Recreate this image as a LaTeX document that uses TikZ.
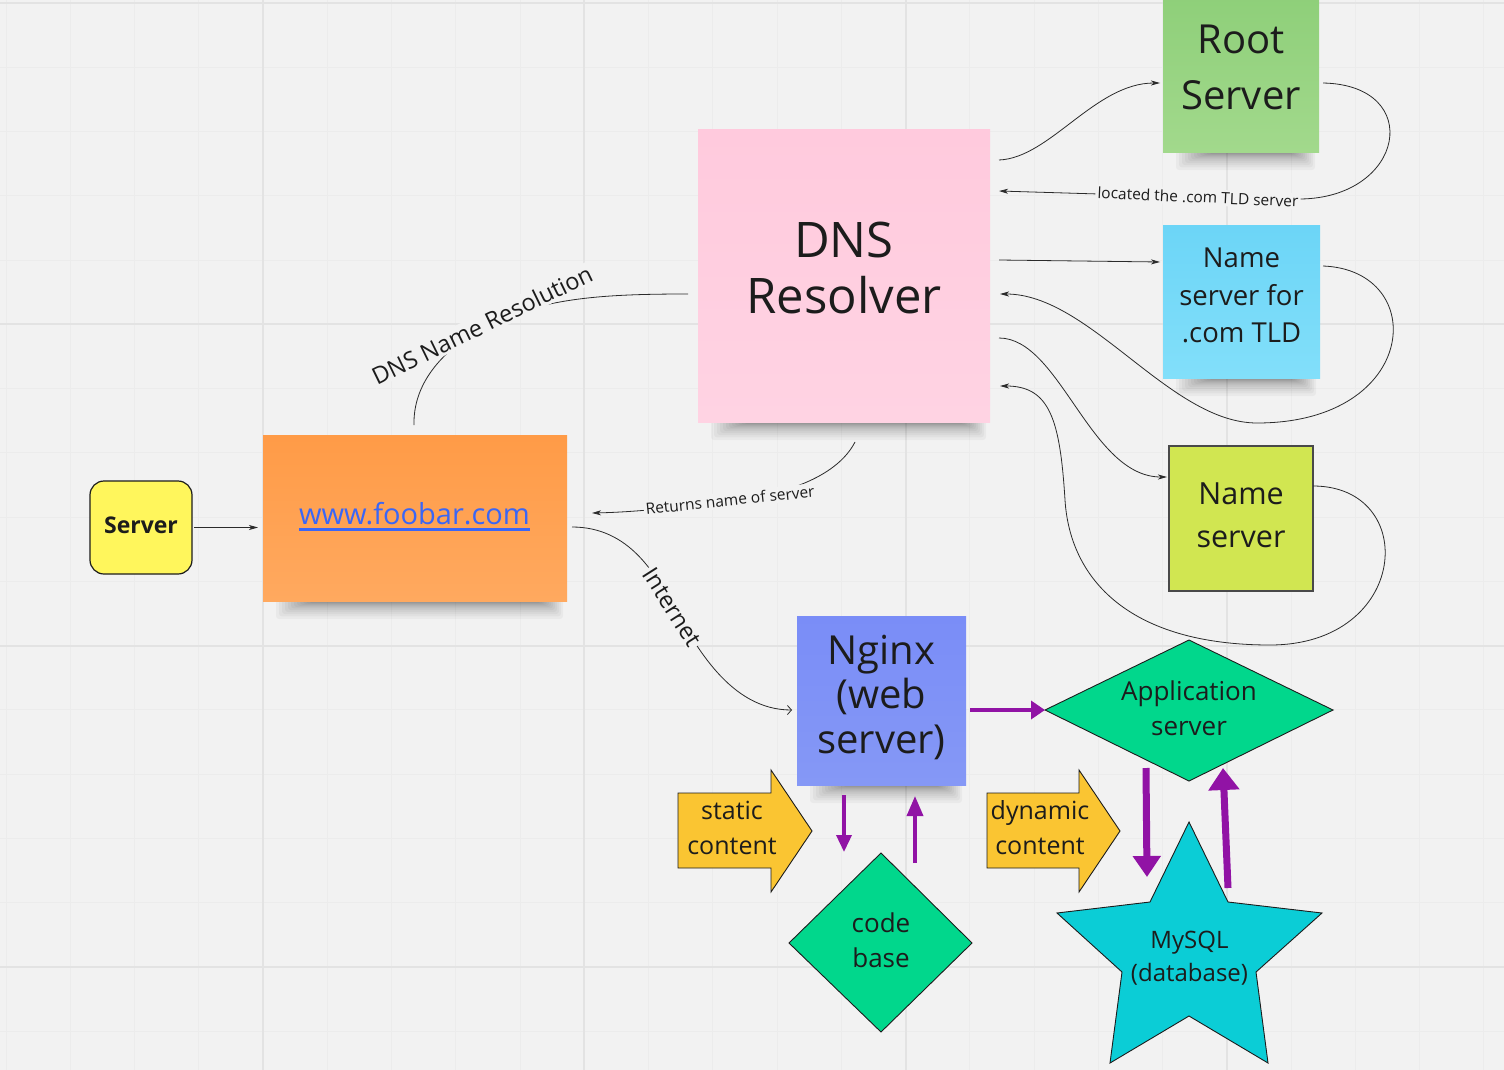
\documentclass[tikz,border=0pt]{standalone}
\usepackage{fontspec}
\setmainfont{Open Sans}
\usetikzlibrary{arrows.meta,calc}
\definecolor{bg}{HTML}{F2F2F2}
\definecolor{gridmin}{HTML}{ECECEC}
\definecolor{gridmaj}{HTML}{E3E3E3}
\definecolor{ink}{HTML}{1C1C1C}
\definecolor{linec}{HTML}{2B2B2B}
\definecolor{srvY}{HTML}{FFF65C}
\definecolor{orangeT}{HTML}{FF9B47}
\definecolor{orangeB}{HTML}{FFA95F}
\definecolor{pinkT}{HTML}{FFCADD}
\definecolor{pinkB}{HTML}{FFD3E3}
\definecolor{greenT}{HTML}{8ECF79}
\definecolor{greenB}{HTML}{A2D98C}
\definecolor{blueT}{HTML}{6CD5F7}
\definecolor{blueB}{HTML}{82DFFA}
\definecolor{limeF}{HTML}{D1E651}
\definecolor{nginxT}{HTML}{7A8DF7}
\definecolor{nginxB}{HTML}{8598F6}
\definecolor{diaF}{HTML}{01D78C}
\definecolor{starF}{HTML}{0BCDD6}
\definecolor{arrowY}{HTML}{FAC532}
\definecolor{purp}{HTML}{9113A5}
\definecolor{linkC}{HTML}{3A66F6}
\newcommand\linkul[1]{\setbox0=\hbox{#1}\leavevmode\rlap{\rule[-7pt]{\wd0}{2.6pt}}\box0}
\newcommand\noteshadow[3]{%
  \foreach \i in {1,...,12}{%
    \fill[black,opacity=0.035,rounded corners=3pt] ({#1+10+3*\i},{#3-6}) rectangle ({#2-2-2*\i},{#3+2+16*((13-\i)/12)^2});
  }}
\begin{document}
\begin{tikzpicture}[x=1pt,y=-1pt,
  txt/.style={text=ink, align=center, inner sep=0pt},
  note/.style={inner sep=0pt, outer sep=0pt},
  conn/.style={draw=linec, line width=0.8pt},
  tipf/.style={-{Stealth[length=9pt,width=5pt,inset=2.5pt]}},
  tipo/.style={-{Straight Barb[length=4pt,width=9pt]}},
  lbl/.style={fill=bg, text=ink, inner sep=2pt},
  shapeline/.style={draw=ink, line width=0.9pt},
  parr/.style={draw=purp, line width=#1}
]
\useasboundingbox (0,0) rectangle (1504,1070);
\fill[bg] (0,0) rectangle (1504,1070);
% grid
\foreach \i in {0,...,23} \draw[gridmin, line width=1pt] ({6+64.25*\i},0) -- ({6+64.25*\i},1070);
\foreach \j in {0,...,16} \draw[gridmin, line width=1pt] (0,{3+64.25*\j}) -- (1504,{3+64.25*\j});
\foreach \i in {0,...,3} \draw[gridmaj, line width=2pt] ({263+321.25*\i},0) -- ({263+321.25*\i},1070);
\foreach \j in {0,...,3} \draw[gridmaj, line width=2pt] (0,{3+321.25*\j}) -- (1504,{3+321.25*\j});

% shadows of sticky notes
\noteshadow{263}{567}{601}
\noteshadow{698}{990}{422}
\noteshadow{1163}{1319}{152}
\noteshadow{1163}{1320}{378}
\noteshadow{797}{966}{785}

% sticky notes
\node[note, top color=orangeT, bottom color=orangeB, minimum width=304pt, minimum height=166pt] (url) at (415,518) {};
\node[txt, text=linkC, font=\fontsize{29}{35}\selectfont] (urlT) at (414.5,516.5) {\linkul{www.foobar.com}};

\node[note, top color=pinkT, bottom color=pinkB, minimum width=292pt, minimum height=292pt] (dns) at (844,276) {};
\node[txt, font=\fontsize{49}{56}\selectfont] (dnsT) at (844,267.5) {DNS\\Resolver};

\node[note, top color=greenT, bottom color=greenB, minimum width=156pt, minimum height=158pt] (root) at (1241,73) {};
\node[txt, font=\fontsize{40}{56}\selectfont] (rootT) at (1241,67.5) {Root\\Server};

\node[note, top color=blueT, bottom color=blueB, minimum width=157pt, minimum height=153pt] (tld) at (1241.5,301.5) {};
\node[txt, font=\fontsize{27.5}{37.5}\selectfont] (tldT) at (1241.5,295.5) {Name\\server for\\.com TLD};

\node[note, fill=limeF, draw=ink!80, line width=1.4pt, minimum width=144pt, minimum height=145pt] (ns) at (1241,518.5) {};
\node[txt, font=\fontsize{30.5}{43}\selectfont] (nsT) at (1241,515.6) {Name\\server};

\node[note, top color=nginxT, bottom color=nginxB, minimum width=169pt, minimum height=169pt] (nginx) at (881.5,700.5) {};
\node[txt, font=\fontsize{40}{44.5}\selectfont] (nginxT) at (881.5,697) {Nginx\\(web\\server)};

% server
\node[note, fill=srvY, draw=ink, line width=1.2pt, rounded corners=14pt, minimum width=102pt, minimum height=93pt] (srv) at (141,527.5) {};
\node[txt, font=\fontsize{23}{28}\selectfont\bfseries] (srvT) at (141,525) {Server};

% block arrows
\draw[shapeline, fill=arrowY] (678,793) -- (771,793) -- (771,770) -- (812,831) -- (771,892) -- (771,868) -- (678,868) -- cycle;
\node[txt, font=\fontsize{25}{35}\selectfont] (staticT) at (732,828) {static\\content};
\draw[shapeline, fill=arrowY] (987,793) -- (1079,793) -- (1079,770) -- (1120,831) -- (1079,892) -- (1079,868) -- (987,868) -- cycle;
\node[txt, font=\fontsize{25}{35}\selectfont] (dynT) at (1040,828) {dynamic\\content};

% diamonds
\draw[shapeline, fill=diaF] (1045,710) coordinate (app-w) -- (1189,640) coordinate (app-n) -- (1333,710) coordinate (app-e) -- (1189,781) coordinate (app-s) -- cycle;
\node[txt, font=\fontsize{26}{35}\selectfont] (appT) at (1189,708.6) {Application\\server};
\draw[shapeline, fill=diaF] (789,943) coordinate (code-w) -- (881,853) coordinate (code-n) -- (972,943) coordinate (code-e) -- (881,1032) coordinate (code-s) -- cycle;
\node[txt, font=\fontsize{26}{35}\selectfont] (codeT) at (881,940) {code\\base};

% star
\draw[shapeline, fill=starF] (1189,822) coordinate (db-n) -- (1228,902) -- (1322,913) -- (1256,972) -- (1268,1063) -- (1189,1016) -- (1110,1063) -- (1122,972) -- (1057,913) -- (1150,902) -- cycle;
\node[txt, font=\fontsize{24}{33}\selectfont] (dbT) at (1189.5,958) {MySQL\\(database)};

% purple arrows
\coordinate (p1s) at (970,710);
\draw[parr=4.5pt, -{Triangle[length=14pt,width=18pt]}] (p1s) -- (app-w);
\coordinate (p2s) at (844,795); \coordinate (p2e) at (844,852);
\draw[parr=3.5pt, -{Triangle[length=17pt,width=15pt]}] (p2s) -- (p2e);
\coordinate (p3s) at (915,863); \coordinate (p3e) at (915,796);
\draw[parr=3.5pt, -{Triangle[length=20pt,width=16pt]}] (p3s) -- (p3e);
\coordinate (p4s) at (1146,768); \coordinate (p4e) at (1147,877);
\draw[parr=7pt, -{Triangle[length=21pt,width=27pt]}] (p4s) -- (p4e);
\coordinate (p5s) at (1228,888); \coordinate (p5e) at (1223,768);
\draw[parr=7pt, -{Triangle[length=22pt,width=30pt]}] (p5s) -- (p5e);

% thin connectors
\draw[conn, tipf] ([xshift=2pt]srv.east) -- (258,527.5) coordinate (urlW);

\coordinate (c2s) at (414,425); \coordinate (c2e) at (688,294);
\draw[conn] (c2s) .. controls (413,385) and (440,352) .. (482,328) .. controls (540,298) and (600,294) .. (c2e);
\node[lbl, rotate=26, font=\fontsize{23.5}{28}\selectfont] (l2) at (482,325) {DNS Name Resolution};

\coordinate (c3s) at (855,442); \coordinate (c3e) at (592,513);
\draw[conn, tipf] (c3s) .. controls (838,475) and (790,494) .. (730,501) .. controls (690,506) and (640,512) .. (c3e);
\node[lbl, rotate=6, font=\fontsize{15.5}{19}\selectfont] (l3) at (730,500) {Returns name of server};

\coordinate (c4s) at (572,527); \coordinate (c4e) at (792,710);
\draw[conn, tipo] (c4s) .. controls (630,527) and (655,575) .. (673,605) .. controls (695,645) and (730,710) .. (c4e);
\node[lbl, rotate=-57.5, font=\fontsize{23.5}{28}\selectfont] (l4) at (672.5,607) {Internet};

\coordinate (c5s) at (999,160); \coordinate (c5e) at (1160,83);
\draw[conn, tipf] (c5s) .. controls (1050,158) and (1095,83) .. (c5e);

\coordinate (c6s) at (1323,83); \coordinate (c6e) at (999,191);
\draw[conn, tipf] (c6s) .. controls (1425,85) and (1405,198) .. (1300,199) -- (1198,197) -- (c6e);
\node[lbl, rotate=-2.5, font=\fontsize{15.5}{19}\selectfont] (l6) at (1198,197) {located the .com TLD server};

\coordinate (c7s) at (999,260); \coordinate (c7e) at (1160,262);
\draw[conn, tipf] (c7s) -- (c7e);

\coordinate (c8s) at (1323,266); \coordinate (c8e) at (1000,294);
\draw[conn, tipf] (c8s) .. controls (1430,270) and (1420,423) .. (1257,423) .. controls (1170,423) and (1090,294) .. (c8e);

\coordinate (c9s) at (999,338); \coordinate (c9e) at (1167,477);
\draw[conn, tipf] (c9s) .. controls (1060,338) and (1090,477) .. (c9e);

\coordinate (c10s) at (1313,486); \coordinate (c10e) at (1000,386);
\draw[conn, tipf] (c10s) .. controls (1420,486) and (1410,645) .. (1270,645) .. controls (1130,645) and (1070,580) .. (1065,500) .. controls (1060,420) and (1050,386) .. (c10e);
\end{tikzpicture}
\end{document}
